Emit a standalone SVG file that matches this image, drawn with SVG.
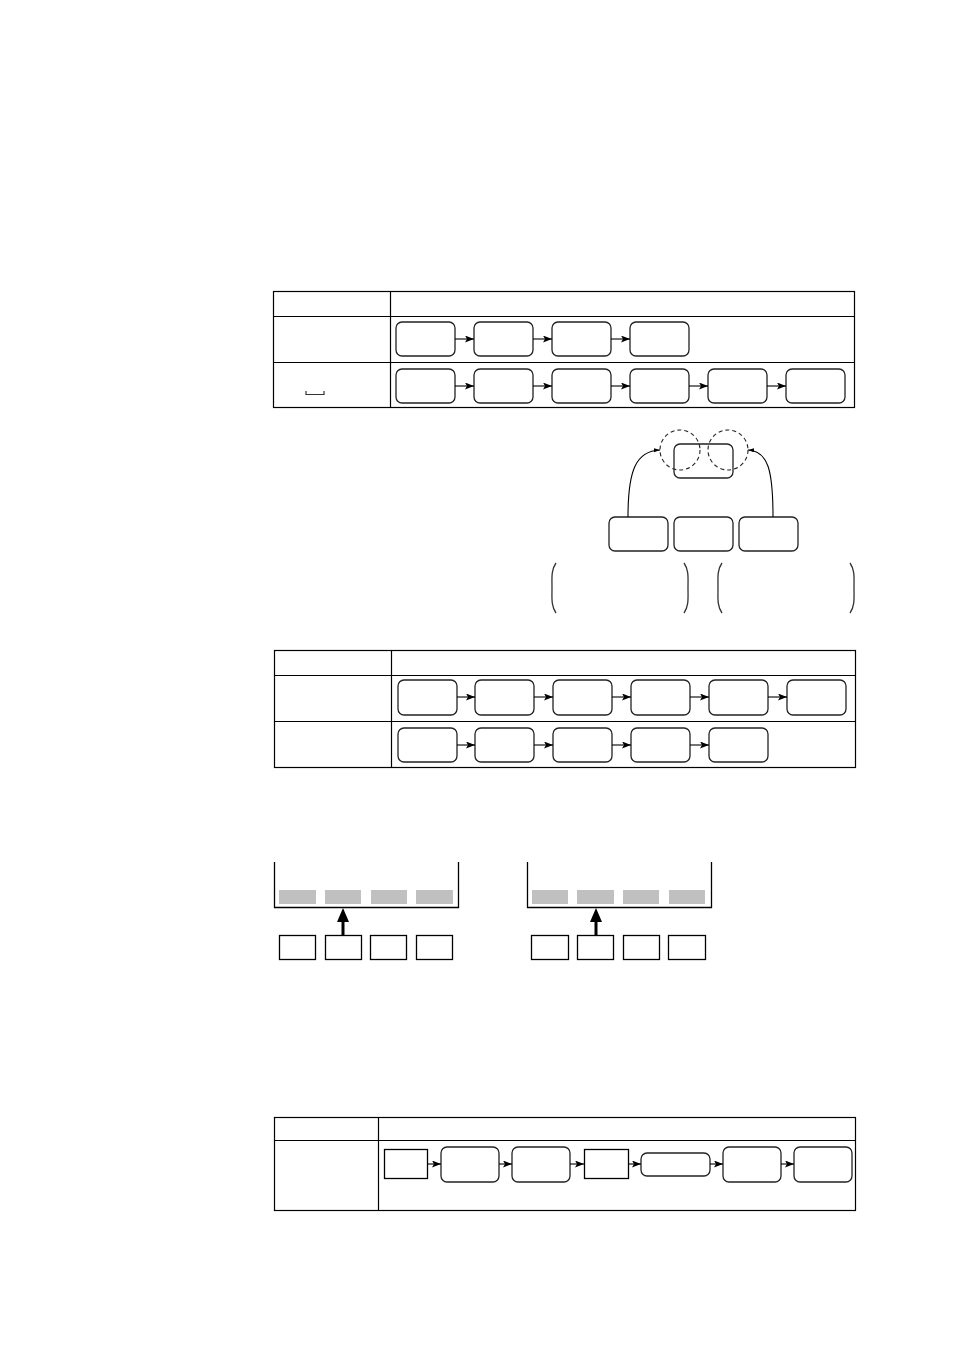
<svg xmlns="http://www.w3.org/2000/svg" width="954" height="1351" viewBox="0 0 954 1351">
<defs>
<marker id="ah" markerUnits="userSpaceOnUse" markerWidth="10" markerHeight="7" refX="9" refY="3.5" orient="auto"><path d="M0,0 L9,3.5 L0,7 L2,3.5 z" fill="#000"/></marker>
<marker id="ahs" markerUnits="userSpaceOnUse" markerWidth="7" markerHeight="5" refX="6" refY="2" orient="auto"><path d="M0,0 L6,2 L0,4 z" fill="#000"/></marker>
</defs>
<style>
.tbl{fill:none;stroke:#000;stroke-width:1.2}
.rb{fill:#fff;stroke:#222;stroke-width:1.3}
.sb{fill:#fff;stroke:#000;stroke-width:1.3}
.ar{fill:none;stroke:#000;stroke-width:1.1;marker-end:url(#ah)}
.dc{fill:none;stroke:#222;stroke-width:1.1;stroke-dasharray:4,3}
.bar{fill:#c0c0c0}
.par{fill:none;stroke:#333;stroke-width:1.3}
</style>
<rect width="954" height="1351" fill="#fff"/>

<g id="table1">
<rect class="tbl" x="273.5" y="291.5" width="581" height="116"/>
<line class="tbl" x1="273.5" y1="316.5" x2="854.5" y2="316.5"/>
<line class="tbl" x1="273.5" y1="362.5" x2="854.5" y2="362.5"/>
<line class="tbl" x1="390.5" y1="291.5" x2="390.5" y2="407.5"/>
<path d="M306,391 V394.5 H324 V391" fill="none" stroke="#333" stroke-width="1.2"/>
</g>
<g id="t1r1">
<rect class="rb" x="396" y="322" width="59" height="34" rx="6"/>
<rect class="rb" x="474" y="322" width="59" height="34" rx="6"/>
<rect class="rb" x="552" y="322" width="59" height="34" rx="6"/>
<rect class="rb" x="630" y="322" width="59" height="34" rx="6"/>
</g>
<g id="t1r2">
<rect class="rb" x="396" y="369" width="59" height="34" rx="6"/>
<rect class="rb" x="474" y="369" width="59" height="34" rx="6"/>
<rect class="rb" x="552" y="369" width="59" height="34" rx="6"/>
<rect class="rb" x="630" y="369" width="59" height="34" rx="6"/>
<rect class="rb" x="708" y="369" width="59" height="34" rx="6"/>
<rect class="rb" x="786" y="369" width="59" height="34" rx="6"/>
</g>

<g id="sec2">
<rect class="rb" x="674" y="444" width="59" height="34" rx="6"/>
<circle class="dc" cx="680" cy="450" r="20"/>
<circle class="dc" cx="728" cy="450" r="20"/>
<rect class="rb" x="609" y="517" width="59" height="34" rx="6"/>
<rect class="rb" x="674" y="517" width="59" height="34" rx="6"/>
<rect class="rb" x="739" y="517" width="59" height="34" rx="6"/>
<path class="par" d="M556,563 C551,570 552,578 552,588 C552,598 551,606 556,613"/>
<path class="par" d="M684,563 C689,570 688,578 688,588 C688,598 689,606 684,613"/>
<path class="par" d="M722,563 C717,570 718,578 718,588 C718,598 717,606 722,613"/>
<path class="par" d="M850,563 C855,570 854,578 854,588 C854,598 855,606 850,613"/>
</g>

<g id="table2">
<rect class="tbl" x="274.5" y="650.5" width="581" height="117"/>
<line class="tbl" x1="274.5" y1="675.5" x2="855.5" y2="675.5"/>
<line class="tbl" x1="274.5" y1="721.5" x2="855.5" y2="721.5"/>
<line class="tbl" x1="391.5" y1="650.5" x2="391.5" y2="767.5"/>
</g>
<g id="t2r1">
<rect class="rb" x="398" y="680" width="59" height="35" rx="6"/>
<rect class="rb" x="475" y="680" width="59" height="35" rx="6"/>
<rect class="rb" x="553" y="680" width="59" height="35" rx="6"/>
<rect class="rb" x="631" y="680" width="59" height="35" rx="6"/>
<rect class="rb" x="709" y="680" width="59" height="35" rx="6"/>
<rect class="rb" x="787" y="680" width="59" height="35" rx="6"/>
</g>
<g id="t2r2">
<rect class="rb" x="398" y="728" width="59" height="34" rx="6"/>
<rect class="rb" x="475" y="728" width="59" height="34" rx="6"/>
<rect class="rb" x="553" y="728" width="59" height="34" rx="6"/>
<rect class="rb" x="631" y="728" width="59" height="34" rx="6"/>
<rect class="rb" x="709" y="728" width="59" height="34" rx="6"/>
</g>

<g id="tray1">
<path d="M274.5,862 V907.5 H458.5 V862" fill="none" stroke="#000" stroke-width="1.3"/>
<rect class="bar" x="279" y="890" width="37" height="14"/>
<rect class="bar" x="325" y="890" width="36" height="14"/>
<rect class="bar" x="371" y="890" width="36" height="14"/>
<rect class="bar" x="416" y="890" width="37" height="14"/>
<rect class="sb" x="279.5" y="935.5" width="36" height="24"/>
<rect class="sb" x="325.5" y="935.5" width="36" height="24"/>
<rect class="sb" x="370.5" y="935.5" width="36" height="24"/>
<rect class="sb" x="416.5" y="935.5" width="36" height="24"/>
</g>
<g id="tray2">
<path d="M527.5,862 V907.5 H711.5 V862" fill="none" stroke="#000" stroke-width="1.3"/>
<rect class="bar" x="532" y="890" width="36" height="14"/>
<rect class="bar" x="577" y="890" width="37" height="14"/>
<rect class="bar" x="623" y="890" width="36" height="14"/>
<rect class="bar" x="669" y="890" width="36" height="14"/>
<rect class="sb" x="531.5" y="935.5" width="37" height="24"/>
<rect class="sb" x="577.5" y="935.5" width="36" height="24"/>
<rect class="sb" x="623.5" y="935.5" width="36" height="24"/>
<rect class="sb" x="668.5" y="935.5" width="37" height="24"/>
</g>

<g id="table3">
<rect class="tbl" x="274.5" y="1117.5" width="581" height="93"/>
<line class="tbl" x1="274.5" y1="1140.5" x2="855.5" y2="1140.5"/>
<line class="tbl" x1="378.5" y1="1117.5" x2="378.5" y2="1210.5"/>
</g>
<g id="t3r1">
<rect class="sb" x="384.5" y="1149.5" width="43" height="29"/>
<rect class="rb" x="441" y="1147" width="58" height="35" rx="6"/>
<rect class="rb" x="512" y="1147" width="58" height="35" rx="6"/>
<rect class="sb" x="584.5" y="1149.5" width="44" height="29"/>
<rect class="rb" x="641" y="1153" width="69" height="23" rx="6"/>
<rect class="rb" x="723" y="1147" width="58" height="35" rx="6"/>
<rect class="rb" x="794" y="1147" width="58" height="35" rx="6"/>
</g>

<g id="connectors">
<line class="ar" x1="455" y1="339" x2="474" y2="339"/>
<line class="ar" x1="533" y1="339" x2="552" y2="339"/>
<line class="ar" x1="611" y1="339" x2="630" y2="339"/>
<line class="ar" x1="455" y1="386" x2="474" y2="386"/>
<line class="ar" x1="533" y1="386" x2="552" y2="386"/>
<line class="ar" x1="611" y1="386" x2="630" y2="386"/>
<line class="ar" x1="689" y1="386" x2="708" y2="386"/>
<line class="ar" x1="767" y1="386" x2="786" y2="386"/>
<path d="M628,517 C628,470 636,451 660,450" fill="none" stroke="#000" stroke-width="1.1" marker-end="url(#ahs)"/>
<path d="M773,517 C773,470 768,451 748,450" fill="none" stroke="#000" stroke-width="1.1" marker-end="url(#ahs)"/>
<line class="ar" x1="457" y1="697" x2="475" y2="697"/>
<line class="ar" x1="534" y1="697" x2="553" y2="697"/>
<line class="ar" x1="612" y1="697" x2="631" y2="697"/>
<line class="ar" x1="690" y1="697" x2="709" y2="697"/>
<line class="ar" x1="768" y1="697" x2="787" y2="697"/>
<line class="ar" x1="457" y1="745" x2="475" y2="745"/>
<line class="ar" x1="534" y1="745" x2="553" y2="745"/>
<line class="ar" x1="612" y1="745" x2="631" y2="745"/>
<line class="ar" x1="690" y1="745" x2="709" y2="745"/>
<line x1="343" y1="935" x2="343" y2="920" stroke="#000" stroke-width="3"/>
<path d="M337,922 L343,908 L349,922 z" fill="#000"/>
<line x1="596" y1="935" x2="596" y2="920" stroke="#000" stroke-width="3"/>
<path d="M590,922 L596,908 L602,922 z" fill="#000"/>
<line class="ar" x1="428" y1="1164" x2="441" y2="1164"/>
<line class="ar" x1="499" y1="1164" x2="512" y2="1164"/>
<line class="ar" x1="570" y1="1164" x2="584" y2="1164"/>
<line class="ar" x1="629" y1="1164" x2="641" y2="1164"/>
<line class="ar" x1="710" y1="1164" x2="723" y2="1164"/>
<line class="ar" x1="781" y1="1164" x2="794" y2="1164"/>
</g>
</svg>
